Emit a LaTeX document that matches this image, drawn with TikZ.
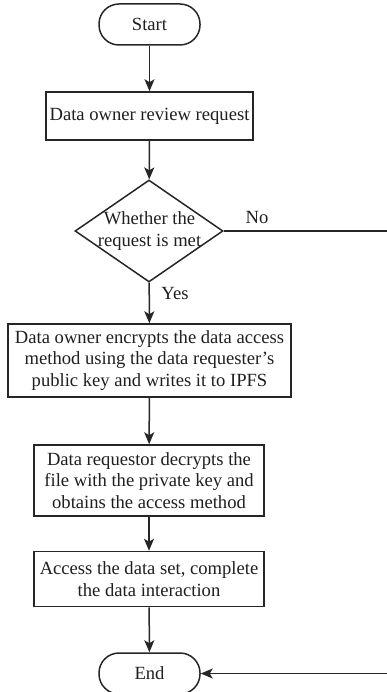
\documentclass[tikz,border=0pt]{standalone}
\usepackage{fontspec}
\setmainfont{Liberation Serif}
\usetikzlibrary{arrows.meta,shapes.geometric}
\begin{document}
\begin{tikzpicture}[x=1pt,y=-1pt,
  every node/.style={font=\fontsize{18.6}{21.5}\selectfont, text=black!88},
  proc/.style={draw=black!85, line width=1.5pt, inner sep=0pt, align=center},
  term/.style={draw=black!85, line width=1.5pt, rounded corners=20pt, minimum width=101pt, minimum height=41pt, inner sep=0pt},
  decision/.style={draw=black!85, diamond, line width=1.5pt, minimum width=148pt, minimum height=102pt, inner sep=0pt},
  flow/.style={draw=black!85, line width=1.5pt, -{Stealth[length=12pt,width=10pt,inset=3pt]}}
]
\useasboundingbox (0,0) rectangle (386,692);
\node[term] (start) at (149.5,24.5) {Start};
\node[proc, minimum width=207pt, minimum height=48pt] (review) at (149.5,116) {Data owner review request};
\node[decision] (check) at (149,231) {};
\node[align=center, inner sep=0pt] (checktext) at (149.5,231) {Whether the\\request is met};
\node[proc, minimum width=283pt, minimum height=73pt] (encrypt) at (149.5,360.5) {Data owner encrypts the data access\\method using the data requester’s\\public key and writes it to IPFS};
\node[proc, minimum width=230pt, minimum height=71pt] (decrypt) at (149,480.5) {Data requestor decrypts the\\file with the private key and\\obtains the access method};
\node[proc, minimum width=230pt, minimum height=55pt] (access) at (149,579) {Access the data set, complete\\the data interaction};
\node[term] (end) at (149.5,673.5) {End};
\node (no) at (257,217.5) {No};
\node (yes) at (175,294) {Yes};
\coordinate (r1) at (392,231);
\coordinate (r2) at (392,673.5);
\draw[flow] (start) -- (review);
\draw[flow] (review) -- (check);
\draw[flow] (check) -- (encrypt);
\draw[flow] (encrypt) -- (decrypt);
\draw[flow] (decrypt) -- (access);
\draw[flow] (access) -- (end);
\draw[flow] (check.east) -- (r1) -- (r2) -- (end.east);
\end{tikzpicture}
\end{document}
